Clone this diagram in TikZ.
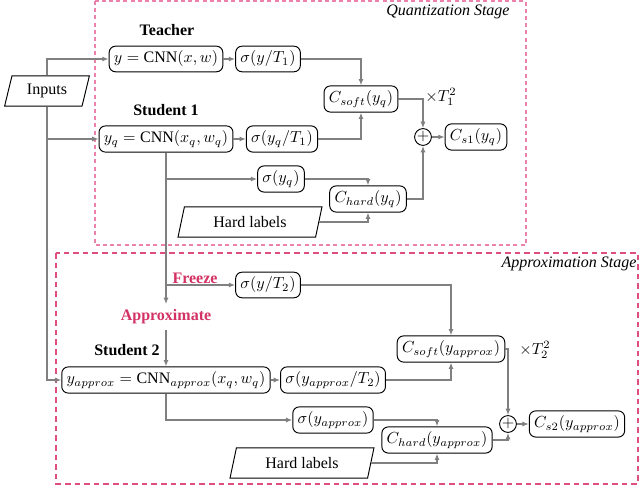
\documentclass[tikz,border=0pt]{standalone}
\usepackage{fontspec}
\setmainfont{Liberation Serif}
\usetikzlibrary{shapes.geometric,arrows.meta}
\definecolor{linegray}{RGB}{128,128,128}
\definecolor{quantpink}{RGB}{236,130,172}
\definecolor{apppink}{RGB}{222,78,128}
\definecolor{txtpink}{RGB}{210,50,100}
\begin{document}
\begin{tikzpicture}[x=0.625pt,y=-0.625pt,
  box/.style={draw,rounded corners=4pt,inner sep=3pt,line width=0.6pt},
  para/.style={draw,trapezium,trapezium left angle=70,trapezium right angle=110,
    trapezium stretches body,line width=0.6pt,minimum height=19pt,inner sep=2pt},
  conn/.style={draw=linegray,line width=0.9pt,-{Latex[length=4pt,width=3.2pt]}},
  sumnode/.style={circle,draw,inner sep=0pt,minimum size=10.5pt,line width=0.6pt},
  boldlbl/.style={font=\bfseries},
  pinklbl/.style={font=\bfseries,text=txtpink},
  stagelbl/.style={font=\itshape},
  quantbox/.style={draw=quantpink,line width=0.7pt,dash pattern=on 2.5pt off 2pt},
  appbox/.style={draw=apppink,line width=0.8pt,dash pattern=on 3.5pt off 2.5pt}]
\useasboundingbox (0,0) rectangle (640,489);

% stage frames
\draw[quantbox] (95,1) rectangle (526,245);
\draw[appbox] (56,253) rectangle (638,484);
\node[stagelbl] (qlbl) at (448,12) {Quantization Stage};
\node[stagelbl] (albl) at (569,264) {Approximation Stage};

% quantization stage
\node[boldlbl] (teacherlbl) at (167,30) {Teacher};
\node[box] (cnnT) at (166,59) {$y=\mathrm{CNN}(x,w)$};
\node[box] (sigT) at (268,59) {$\sigma(y/T_1)$};
\node[para,minimum width=53pt] (inputs) at (47,91) {Inputs};
\node[boldlbl] (s1lbl) at (166,110) {Student 1};
\node[box] (cnnS) at (166,139) {$y_q=\mathrm{CNN}(x_q,w_q)$};
\node[box] (sigS) at (282,139) {$\sigma(y_q/T_1)$};
\node[box] (sigq) at (281,179) {$\sigma(y_q)$};
\node[para,minimum width=90pt] (hard1) at (250,222) {Hard labels};
\node[box] (csoft1) at (361,99) {$C_{soft}(y_q)$};
\node[sumnode] (plus1) at (423,137) {$+$};
\node[box] (cs1) at (476,137) {$C_{s1}(y_q)$};
\node[box] (chard1) at (368,199) {$C_{hard}(y_q)$};
\node[anchor=west,inner sep=0pt] (t1lbl) at (425,97) {$\times T_1^2$};

% approximation stage
\node[pinklbl] (freeze) at (195,278) {Freeze};
\node[box] (sigT2) at (268,285) {$\sigma(y/T_2)$};
\node[pinklbl] (approx) at (166,317) {Approximate};
\node[boldlbl] (s2lbl) at (127,350) {Student 2};
\node[box] (cnnA) at (166,380) {$y_{approx}=\mathrm{CNN}_{approx}(x_q,w_q)$};
\node[box] (sigA2) at (333,380) {$\sigma(y_{approx}/T_2)$};
\node[box] (sigA) at (333,420) {$\sigma(y_{approx})$};
\node[para,minimum width=90pt] (hard2) at (302,463) {Hard labels};
\node[box] (csoft2) at (451,349) {$C_{soft}(y_{approx})$};
\node[anchor=west,inner sep=0pt] (t2lbl) at (519,350) {$\times T_2^2$};
\node[sumnode] (plus2) at (508,424) {$+$};
\node[box] (cs2) at (577,424) {$C_{s2}(y_{approx})$};
\node[box] (chard2) at (437,440) {$C_{hard}(y_{approx})$};

% connectors: inputs
\draw[conn] (inputs.north) |- (cnnT.west);
\draw[conn] (inputs.south) |- (cnnS.west);
\draw[conn] (inputs.south) |- (cnnA.west);

% quantization connectors
\draw[conn] (cnnT.east) -- (sigT.west);
\draw[conn] (cnnS.east) -- (sigS.west);
\draw[conn] (sigT.east) -| (csoft1.north);
\draw[conn] (sigS.east) -| (csoft1.south);
\draw[conn] (csoft1.east) -| (plus1.north);
\draw[conn] (cnnS.south) |- (sigq.west);
\draw[conn] (sigq.east) -| (chard1.north);
\draw[conn] (hard1.east) -| (chard1.south);
\draw[conn] (chard1.east) -| (plus1.south);
\draw[conn] (plus1.east) -- (cs1.west);

% approximation connectors
\draw[conn] (cnnS.south) |- (sigT2.west);
\draw[conn] (cnnS.south) -- (approx.north);
\draw[conn] (approx.south) -- (cnnA.north);
\draw[conn] (cnnA.east) -- (sigA2.west);
\draw[conn] (sigT2.east) -| (csoft2.north);
\draw[conn] (sigA2.east) -| (csoft2.south);
\draw[conn] (csoft2.east) -| (plus2.north);
\draw[conn] (cnnA.south) |- (sigA.west);
\draw[conn] (sigA.east) -| (chard2.north);
\draw[conn] (hard2.east) -| (chard2.south);
\draw[conn] (chard2.east) -| (plus2.south);
\draw[conn] (plus2.east) -- (cs2.west);
\end{tikzpicture}
\end{document}
